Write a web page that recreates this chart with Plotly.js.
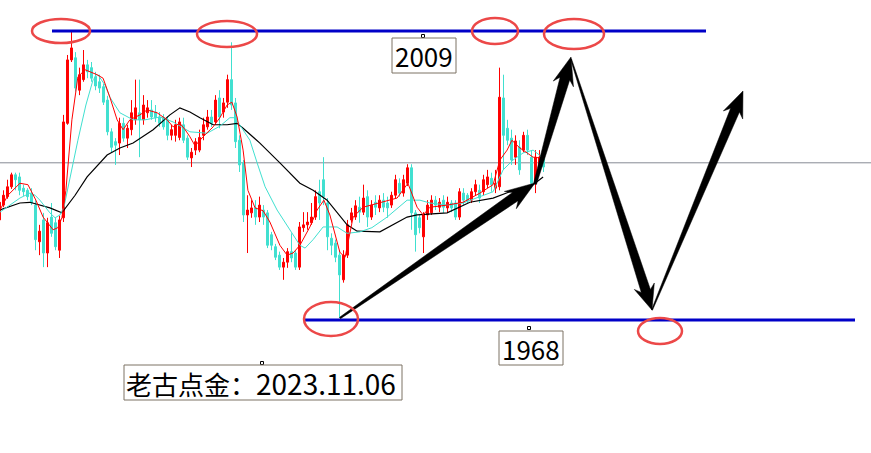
<!DOCTYPE html>
<html><head><meta charset="utf-8">
<script src="https://cdn.plot.ly/plotly-3.0.1.min.js"></script>
<style>html,body{margin:0;padding:0;background:#fff;overflow:hidden}#chart{width:871px;height:453px}</style>
</head><body><div id="chart"></div>
<script>
// ---- data (gold price candles) ----
const openP = [1982.2,1984.3,1985.5,1986.9,1988.6,1988.3,1986.7,1986.4,1986.0,1984.3,
1979.1,1982.2,1977.5,1982.6,1981.8,1977.9,1982.5,1995.9,2004.9,2005.2,
2000.6,2002.1,2004.2,2003.8,2002.5,2001.8,2001.1,1999.2,1994.7,1993.3,
1993.1,1995.9,1993.8,1995.0,1996.4,1997.4,1996.4,1997.4,1997.8,1997.5,
1996.8,1996.7,1996.4,1994.2,1994.2,1993.9,1995.7,1993.8,1991.0,1992.1,
1992.1,1994.2,1995.4,1996.8,1996.1,1999.5,1997.5,1998.9,2002.1,1998.8,
1993.5,1990.3,1982.9,1983.2,1983.9,1982.6,1983.6,1983.2,1980.1,1978.4,
1977.2,1975.5,1976.2,1977.7,1977.5,1975.5,1981.1,1981.5,1981.8,1982.6,
1986.2,1987.9,1984.6,1979.6,1978.9,1977.2,1973.7,1977.2,1982.2,1982.6,
1984.0,1983.3,1985.5,1982.6,1984.7,1983.9,1985.0,1984.6,1984.3,1985.7,
1987.4,1986.0,1987.4,1989.6,1983.2,1982.5,1979.8,1982.9,1983.2,1985.0,
1984.0,1985.0,1983.9,1984.6,1984.6,1982.6,1986.0,1985.7,1985.0,1986.2,
1986.4,1986.2,1987.2,1988.1,1986.7,1986.9,1999.5,1995.2,1993.8,1991.1,
1992.5,1992.1,1994.2,1991.1,1987.4,1989.7,1991.1];
const highP = [1985.3,1986.4,1987.9,1988.9,1988.9,1988.9,1987.2,1986.7,1986.7,1985.0,
1981.5,1983.2,1982.5,1984.6,1982.5,1982.8,1997.1,2005.6,2009.0,2006.0,
2003.8,2006.3,2004.9,2004.6,2003.2,2002.8,2001.5,1999.8,1995.2,1993.8,
1996.7,1996.7,1995.7,1999.2,2002.1,2002.1,1999.9,1999.2,1999.2,1998.5,
1997.5,1997.2,1996.9,1995.7,1996.4,1996.7,1996.7,1994.2,1992.4,1993.8,
1995.0,1996.7,1997.8,1997.8,1999.9,2000.6,1999.5,2002.8,2007.4,1999.5,
1994.2,1990.7,1985.7,1985.0,1985.0,1985.5,1984.3,1983.6,1980.5,1978.8,
1977.7,1976.8,1978.2,1980.3,1977.9,1981.9,1983.3,1983.3,1984.6,1986.4,
1987.9,1991.1,1985.3,1980.3,1979.4,1977.9,1977.9,1982.2,1983.9,1985.0,
1985.5,1987.2,1986.4,1985.0,1985.7,1985.7,1986.0,1985.5,1986.2,1988.6,
1988.1,1988.6,1990.1,1990.1,1983.6,1982.9,1983.3,1985.0,1985.7,1985.6,
1985.3,1985.7,1985.5,1985.0,1985.0,1986.7,1986.7,1986.0,1986.7,1987.9,
1987.2,1988.6,1989.3,1988.9,1989.3,2003.8,2002.8,1996.4,1995.0,1994.2,
1993.5,1994.7,1995.0,1992.1,1992.1,1992.1,1992.1];
const lowP = [1981.9,1984.0,1985.2,1986.6,1986.4,1985.7,1985.6,1985.0,1984.3,1977.9,
1977.2,1975.5,1975.5,1979.8,1977.9,1976.8,1981.9,1995.7,2004.6,2000.4,
1999.9,2001.8,2002.3,2001.8,2000.6,2000.2,1998.5,1994.2,1991.8,1990.0,
1991.4,1993.3,1992.4,1994.2,1995.7,1991.1,1995.7,1996.7,1996.4,1996.1,
1995.4,1995.0,1993.5,1993.5,1993.3,1993.5,1993.1,1990.7,1989.7,1991.4,
1991.8,1993.5,1995.0,1995.4,1995.7,1995.2,1996.7,1998.1,1997.8,1992.4,
1989.0,1981.9,1977.5,1982.5,1981.5,1981.9,1981.5,1978.2,1977.9,1976.5,
1975.1,1973.7,1975.4,1976.2,1975.1,1975.1,1980.5,1980.8,1981.5,1982.2,
1982.2,1984.3,1977.9,1977.2,1976.2,1968.3,1973.3,1976.8,1981.8,1982.2,
1981.8,1982.9,1981.2,1982.2,1982.9,1983.3,1983.3,1982.5,1983.9,1985.3,
1985.5,1985.5,1987.0,1980.8,1977.7,1980.3,1977.5,1982.2,1982.9,1983.6,
1983.3,1983.2,1983.3,1983.3,1982.2,1982.2,1984.3,1984.6,1984.6,1985.7,
1984.6,1985.7,1986.7,1986.2,1986.0,1986.4,1989.3,1992.8,1990.0,1990.0,
1988.6,1991.8,1991.4,1986.7,1986.0,1989.0,1989.0];
const closeP = [1984.7,1985.7,1986.9,1988.6,1987.9,1986.4,1986.2,1985.5,1984.6,1979.4,
1980.6,1977.5,1981.8,1980.3,1978.4,1982.2,1996.1,2004.9,2006.6,2000.9,
2002.8,2004.2,2003.2,2002.3,2001.2,2000.9,1998.9,1994.7,1992.5,1992.8,
1995.9,1993.8,1995.2,1997.4,1998.1,1996.4,1998.5,1998.1,1996.8,1996.7,
1995.9,1995.4,1994.2,1995.0,1995.7,1996.1,1993.5,1991.1,1991.8,1993.3,
1993.9,1995.7,1996.8,1995.9,1999.2,1996.8,1998.8,2002.1,1998.5,1993.3,
1990.0,1982.9,1983.6,1983.9,1982.6,1984.3,1982.6,1978.6,1978.6,1976.9,
1975.5,1976.2,1977.7,1976.8,1975.5,1981.2,1981.5,1981.9,1982.6,1985.5,
1984.6,1985.5,1979.8,1978.6,1976.9,1974.4,1977.2,1981.5,1983.2,1984.2,
1983.3,1985.3,1982.6,1984.3,1984.0,1985.0,1984.0,1983.9,1985.7,1987.9,
1986.0,1987.9,1989.6,1983.2,1980.1,1981.1,1982.9,1984.3,1985.0,1984.3,
1984.7,1984.0,1984.7,1983.9,1982.6,1986.2,1985.0,1984.9,1986.2,1987.2,
1985.3,1987.9,1988.3,1987.2,1987.4,1999.6,1994.2,1993.5,1990.7,1993.4,
1989.3,1994.2,1992.1,1987.4,1991.1,1991.1,1989.7];

// moving-average lines (bar position, price)
const maRedX = [0.1,2.1,5.1,7.1,9.1,10.9,13.4,14.6,15.6,16.6,18.1,19.6,21.4,24.4,25.9,27.6,29.4,30.9,32.6,35.1,36.9,39.4,41.9,43.4,45.1,46.4,47.6,48.9,50.9,53.4,55.1,56.9,58.1,59.4,60.9,62.1,63.9,65.9,67.6,70.1,71.9,73.4,75.1,77.6,79.4,81.1,82.6,85.1,86.4,88.4,90.9,95.1,99.4,102.1,104.4,105.9,107.6,111.9,115.9,120.1,123.4,125.1,126.9,128.1,130.1,131.9,133.4,135.1];
const maRedY = [1983.6,1985.7,1987.4,1987.2,1985.0,1982.6,1980.8,1981.1,1982.5,1986.4,1996.4,2002.5,2003.5,2002.8,2002.3,1999.6,1996.4,1995.0,1996.4,1997.1,1997.8,1997.4,1996.4,1995.4,1995.9,1995.0,1994.0,1992.7,1994.0,1995.4,1996.7,1998.5,1998.9,1996.8,1992.1,1986.4,1983.9,1983.5,1981.9,1978.6,1977.2,1977.5,1978.6,1981.2,1983.6,1985.0,1982.9,1977.6,1976.9,1982.6,1984.0,1984.6,1985.3,1987.4,1984.0,1982.9,1984.0,1984.3,1984.7,1986.0,1987.2,1990.7,1992.1,1993.5,1992.4,1991.7,1991.1,1991.0];
const maCyanX = [0.1,2.6,5.1,7.6,8.9,10.1,11.4,12.6,13.9,15.1,16.1,17.6,19.6,21.6,23.4,24.6,26.4,27.6,30.1,33.4,36.4,40.1,43.4,47.6,51.9,55.1,57.6,58.9,60.9,62.6,64.4,66.4,69.4,72.6,75.1,76.4,78.4,80.9,84.4,86.9,90.1,93.1,96.9,101.9,105.1,107.6,111.9,115.9,120.1,123.4,125.9,128.4,130.9,133.4,135.9];
const maCyanY = [1983.3,1984.3,1985.3,1986.0,1985.7,1985.0,1984.0,1983.2,1982.5,1982.9,1984.0,1988.1,1993.5,1998.5,2002.1,2002.8,2001.3,1999.6,1997.4,1996.4,1996.4,1996.8,1996.1,1994.7,1994.5,1995.5,1996.7,1996.7,1995.0,1993.5,1990.3,1986.9,1983.6,1980.8,1978.6,1978.2,1979.4,1981.2,1981.2,1980.3,1980.5,1981.1,1982.6,1985.0,1985.0,1984.6,1984.3,1984.6,1985.5,1986.2,1989.3,1990.7,1991.7,1992.1,1991.0];
const maBlackX = [0.1,5.1,7.6,12.6,15.6,18.9,21.9,26.9,30.1,33.4,38.4,42.6,45.1,47.6,50.1,53.4,56.9,59.4,60.9,65.1,70.1,75.1,78.4,81.9,86.9,89.4,95.1,98.4,101.9,104.4,111.9,117.6,123.4,127.6,133.4,135.9];
const maBlackY = [1983.6,1984.6,1984.7,1983.9,1983.2,1985.7,1988.3,1991.4,1992.4,1993.1,1995.0,1997.1,1998.1,1997.5,1996.7,1995.7,1995.7,1995.9,1995.2,1993.1,1990.3,1987.4,1986.4,1985.0,1981.5,1980.6,1980.5,1981.5,1982.6,1982.9,1983.2,1984.7,1985.3,1986.2,1987.2,1988.3];

const levels = [2009, 1968];
const levelLabels = ['2009', '1968'];
const currentLevel = 1990.3;
const stampName = '老古点金';
const stampDate = '2023.11.06';

// ---- drawing ----
const W = 871, H = 453;
const px = x => x / W;
const py = y => 1 - y / H;
const idx = openP.map((_, i) => i);

const traces = [
  {type:'candlestick', x: idx, open: openP, high: highP, low: lowP, close: closeP,
   increasing:{line:{color:'#ff0000', width:1}, fillcolor:'#ff0000'},
   decreasing:{line:{color:'#40e0d0', width:1}, fillcolor:'#40e0d0'},
   whiskerwidth:0, hoverinfo:'skip', showlegend:false},
  {type:'scatter', mode:'lines', x: maBlackX, y: maBlackY, line:{color:'#000000', width:1.2}, hoverinfo:'skip'},
  {type:'scatter', mode:'lines', x: maCyanX, y: maCyanY, line:{color:'#40e0d0', width:1}, hoverinfo:'skip'},
  {type:'scatter', mode:'lines', x: maRedX, y: maRedY, line:{color:'#ff0000', width:1}, hoverinfo:'skip'}
];

function arrowPath(x0, y0, x1, y1, tw, sw, hl, hw) {
  const L = Math.hypot(x1 - x0, y1 - y0);
  const ux = (x1 - x0) / L, uy = (y1 - y0) / L;
  const nx = -uy, ny = ux;
  const bx = x1 - ux * hl, by = y1 - uy * hl;
  const sx = x1 - ux * hl * 0.8, sy = y1 - uy * hl * 0.8;
  const pts = [
    [x0 + nx * tw, y0 + ny * tw], [sx + nx * sw, sy + ny * sw], [bx + nx * hw, by + ny * hw],
    [x1, y1],
    [bx - nx * hw, by - ny * hw], [sx - nx * sw, sy - ny * sw], [x0 - nx * tw, y0 - ny * tw]
  ];
  return 'M ' + pts.map(p => px(p[0]).toFixed(5) + ',' + py(p[1]).toFixed(5)).join(' L ') + ' Z';
}
function ellipse(cx, cy, rx, ry) {
  return {type:'circle', xref:'paper', yref:'paper', x0:px(cx - rx), x1:px(cx + rx), y0:py(cy + ry), y1:py(cy - ry),
          line:{color:'rgb(236,72,72)', width:2.5}, fillcolor:'rgba(0,0,0,0)', layer:'above'};
}
function arrow(x0, y0, x1, y1, tw, sw, hl, hw) {
  return {type:'path', xref:'paper', yref:'paper', path: arrowPath(x0, y0, x1, y1, tw, sw, hl, hw),
          fillcolor:'#000000', line:{color:'#000000', width:0.5}, layer:'above'};
}
function tick(x, y) {
  return {type:'rect', xref:'paper', yref:'paper', x0:px(x - 1.5), x1:px(x + 1.5), y0:py(y + 1.5), y1:py(y - 1.5),
          line:{color:'#000', width:1}, fillcolor:'rgba(0,0,0,0)', layer:'above'};
}
function frame(x0, y0, x1, y1) {
  return {type:'rect', xref:'paper', yref:'paper', x0:px(x0), x1:px(x1), y0:py(y1), y1:py(y0),
          line:{color:'#7d7264', width:1}, fillcolor:'#ffffff', layer:'above'};
}

const shapes = [
  {type:'line', xref:'paper', x0:0, x1:1, yref:'y', y0:currentLevel, y1:currentLevel, line:{color:'#868b95', width:1}, layer:'below'},
  {type:'line', xref:'paper', x0:px(52), x1:px(706), yref:'y', y0:levels[0], y1:levels[0], line:{color:'#0000c8', width:3}, layer:'above'},
  {type:'line', xref:'paper', x0:px(305), x1:px(855), yref:'y', y0:levels[1], y1:levels[1], line:{color:'#0000c8', width:3}, layer:'above'},
  arrow(340, 318, 535, 183, 0.8, 5, 30, 10.5),
  arrow(535, 184, 571, 57, 1.5, 5, 28, 10.5),
  arrow(571, 59, 652, 310, 0.5, 4.8, 25, 10.5),
  arrow(652, 310, 743, 91, 0.5, 4.8, 26, 10.5),
  ellipse(61, 31, 29, 12),
  ellipse(227, 34, 30, 13),
  ellipse(495, 31, 23, 13),
  ellipse(574, 34, 30, 15),
  ellipse(331, 319, 27, 17),
  ellipse(660, 331, 22, 13),
  tick(423, 36), tick(529, 328), tick(262, 363),
  frame(392, 38, 456, 73),
  frame(499, 331, 563, 365),
  frame(124, 365, 402, 400)
];

const fam = '"Noto Sans CJK SC", "Noto Sans", sans-serif';
const annotations = [
  {text: levelLabels[0], xref:'paper', yref:'paper', x:px(424), y:py(55.5), xanchor:'center', yanchor:'middle',
   showarrow:false, font:{family:fam, size:26, color:'#000'}, borderpad:0},
  {text: levelLabels[1], xref:'paper', yref:'paper', x:px(531), y:py(348), xanchor:'center', yanchor:'middle',
   showarrow:false, font:{family:fam, size:26, color:'#000'}, borderpad:0},
  {text: stampName + '：<span style="font-size:28px">' + stampDate + '</span>', xref:'paper', yref:'paper',
   x:px(125), y:py(382.5), xanchor:'left', yanchor:'middle', align:'left',
   showarrow:false, font:{family:fam, size:26, color:'#000'}, borderpad:0}
];

const layout = {
  width: W, height: H, margin:{l:0, r:0, t:0, b:0},
  paper_bgcolor:'#ffffff', plot_bgcolor:'#ffffff', showlegend:false, hovermode:false,
  xaxis:{range:[0.125, 217.875], visible:false, rangeslider:{visible:false}, fixedrange:true},
  yaxis:{range:[1949.131, 2013.398], visible:false, fixedrange:true},
  shapes: shapes, annotations: annotations
};
Plotly.newPlot('chart', traces, layout, {staticPlot:true, displayModeBar:false});
</script>
</body></html>
